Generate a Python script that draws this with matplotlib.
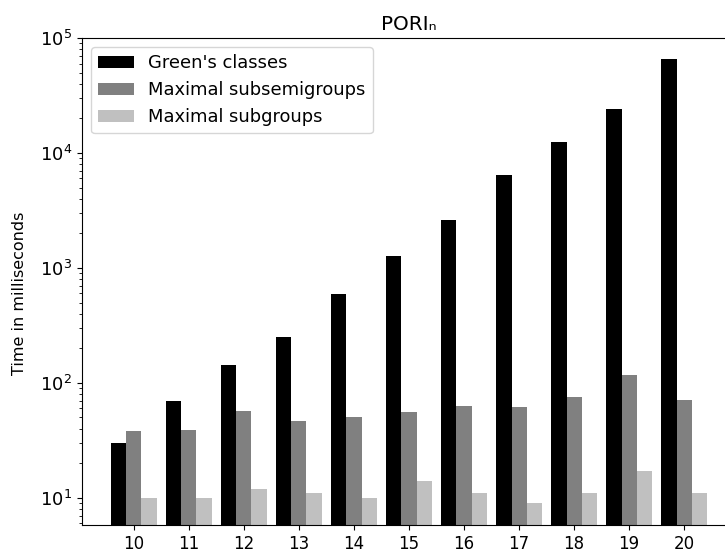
import matplotlib
matplotlib.use("Agg")
import matplotlib.pyplot as plt
import numpy as np

# data (ms, log scale)
sizes = [10, 11, 12, 13, 14, 15, 16, 17, 18, 19, 20]
greens = [30, 70, 144, 253, 588, 1260, 2600, 6400, 12400, 24000, 65600]
max_subsemigroups = [38, 39, 57, 47, 50, 56, 63, 62, 76, 118, 71]
max_subgroups = [10, 10, 12, 11, 10, 14, 11, 9, 11, 17, 11]

plt.rcParams['font.family'] = ['DejaVu Sans']
plt.rcParams['font.size'] = 12

fig = plt.figure(figsize=(7.25, 5.57), dpi=100)
ax = fig.add_axes([82 / 725, 32 / 557, (736 - 82) / 725, (525 - 38) / 557])

x = np.array(sizes)
w = 0.273
ax.bar(x - w, greens, w, color="black", label="Green's classes")
ax.bar(x, max_subsemigroups, w, color="gray", label="Maximal subsemigroups")
ax.bar(x + w, max_subgroups, w, color="silver", label="Maximal subgroups")

ax.set_yscale("log")
ax.set_ylim(5.8, 1e5)
ax.set_xlim(9.055, 20.945)
ax.set_xticks(sizes)
ax.tick_params(axis="y", labelsize=13)
ax.set_ylabel("Time in milliseconds", fontsize=11.5)
ax.yaxis.set_label_coords(-0.084, 0.476)
ax.set_title("PORIₙ")
ax.spines["right"].set_visible(False)
ax.legend(loc="upper left", fontsize=12.9)

fig.savefig("out.png", dpi=100)
